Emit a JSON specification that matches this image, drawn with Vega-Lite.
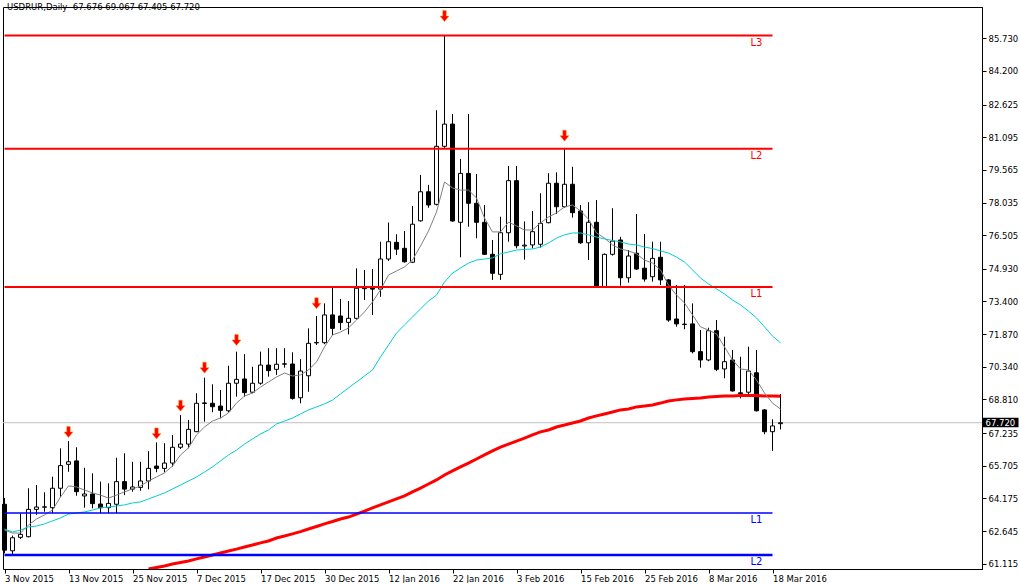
{
  "$schema": "https://vega.github.io/schema/vega-lite/v6.json",
  "width": 979,
  "height": 562,
  "padding": {"left": 2, "top": 2, "right": 0, "bottom": 0},
  "background": "white",
  "config": {
    "view": {"stroke": "black", "strokeWidth": 1},
    "font": "DejaVu Sans",
    "axis": {"labelFont": "DejaVu Sans", "labelColor": "black", "domainColor": "black", "tickColor": "black", "grid": false, "title": null, "labelOverlap": false},
    "axisY": {"labelOverlap": false, "labelBound": false, "tickCount": 40}
  },
  "title": {
    "text": "USDRUR,Daily\u00a0\u00a067.676 69.067 67.405 67.720",
    "anchor": "start",
    "frame": "group",
    "offset": -11,
    "baseline": "alphabetic",
    "dx": 4,
    "font": "DejaVu Sans",
    "fontSize": 8.5,
    "fontWeight": "normal",
    "color": "black"
  },
  "datasets": {
    "candles": [
      {"d":"2015-11-03","o":63.90,"h":64.20,"l":61.60,"c":61.75,"ma5":62.69,"ma21":62.74,"ma200":null},
      {"d":"2015-11-04","o":61.72,"h":62.43,"l":61.49,"c":62.33,"ma5":62.55,"ma21":62.60,"ma200":null},
      {"d":"2015-11-05","o":62.35,"h":63.48,"l":62.27,"c":62.49,"ma5":62.55,"ma21":62.69,"ma200":null},
      {"d":"2015-11-06","o":62.38,"h":64.65,"l":62.35,"c":63.66,"ma5":62.93,"ma21":62.84,"ma200":null},
      {"d":"2015-11-09","o":63.66,"h":64.80,"l":63.40,"c":63.77,"ma5":63.21,"ma21":62.88,"ma200":null},
      {"d":"2015-11-10","o":63.76,"h":64.46,"l":63.55,"c":63.78,"ma5":63.40,"ma21":62.98,"ma200":null},
      {"d":"2015-11-11","o":63.74,"h":65.19,"l":63.48,"c":64.65,"ma5":63.63,"ma21":63.12,"ma200":null},
      {"d":"2015-11-12","o":64.65,"h":66.52,"l":64.25,"c":65.71,"ma5":64.24,"ma21":63.26,"ma200":null},
      {"d":"2015-11-13","o":65.77,"h":66.86,"l":65.42,"c":65.89,"ma5":64.76,"ma21":63.44,"ma200":null},
      {"d":"2015-11-16","o":65.93,"h":66.57,"l":64.30,"c":64.49,"ma5":64.71,"ma21":63.49,"ma200":null},
      {"d":"2015-11-17","o":64.29,"h":65.61,"l":63.74,"c":64.38,"ma5":64.57,"ma21":63.54,"ma200":null},
      {"d":"2015-11-18","o":64.38,"h":65.35,"l":63.71,"c":63.93,"ma5":64.43,"ma21":63.63,"ma200":null},
      {"d":"2015-11-19","o":63.91,"h":64.96,"l":63.48,"c":63.74,"ma5":64.33,"ma21":63.73,"ma200":null},
      {"d":"2015-11-20","o":63.74,"h":64.88,"l":63.48,"c":63.94,"ma5":64.19,"ma21":63.77,"ma200":null},
      {"d":"2015-11-23","o":63.90,"h":66.08,"l":63.48,"c":64.96,"ma5":64.33,"ma21":63.82,"ma200":null},
      {"d":"2015-11-24","o":64.96,"h":66.29,"l":64.33,"c":64.61,"ma5":64.48,"ma21":63.87,"ma200":null},
      {"d":"2015-11-25","o":64.61,"h":65.89,"l":64.49,"c":64.71,"ma5":64.62,"ma21":63.96,"ma200":null},
      {"d":"2015-11-26","o":64.69,"h":65.89,"l":64.53,"c":64.99,"ma5":64.76,"ma21":64.01,"ma200":null},
      {"d":"2015-11-27","o":64.99,"h":66.39,"l":64.60,"c":65.58,"ma5":64.99,"ma21":64.15,"ma200":60.87},
      {"d":"2015-11-30","o":65.69,"h":66.80,"l":65.40,"c":65.58,"ma5":65.18,"ma21":64.29,"ma200":60.94},
      {"d":"2015-12-01","o":65.58,"h":66.76,"l":65.40,"c":65.83,"ma5":65.37,"ma21":64.43,"ma200":61.01},
      {"d":"2015-12-02","o":65.83,"h":67.14,"l":65.66,"c":66.57,"ma5":65.69,"ma21":64.62,"ma200":61.10},
      {"d":"2015-12-03","o":66.57,"h":68.08,"l":66.49,"c":66.72,"ma5":66.21,"ma21":64.80,"ma200":61.17},
      {"d":"2015-12-04","o":66.72,"h":67.85,"l":66.52,"c":67.41,"ma5":66.54,"ma21":64.99,"ma200":61.24},
      {"d":"2015-12-07","o":67.30,"h":69.10,"l":67.28,"c":68.63,"ma5":67.15,"ma21":65.18,"ma200":61.34},
      {"d":"2015-12-08","o":68.62,"h":69.83,"l":67.77,"c":68.65,"ma5":67.52,"ma21":65.41,"ma200":61.43},
      {"d":"2015-12-09","o":68.63,"h":69.52,"l":68.21,"c":68.47,"ma5":67.80,"ma21":65.65,"ma200":61.52},
      {"d":"2015-12-10","o":68.50,"h":69.25,"l":67.93,"c":68.30,"ma5":67.94,"ma21":65.93,"ma200":61.62},
      {"d":"2015-12-11","o":68.28,"h":70.39,"l":68.21,"c":69.57,"ma5":68.18,"ma21":66.21,"ma200":61.71},
      {"d":"2015-12-14","o":69.57,"h":71.05,"l":68.94,"c":69.75,"ma5":68.64,"ma21":66.44,"ma200":61.80},
      {"d":"2015-12-15","o":69.77,"h":70.93,"l":68.94,"c":69.13,"ma5":68.97,"ma21":66.72,"ma200":61.90},
      {"d":"2015-12-16","o":69.15,"h":70.34,"l":69.10,"c":69.57,"ma5":69.11,"ma21":66.96,"ma200":61.99},
      {"d":"2015-12-17","o":69.57,"h":71.05,"l":69.50,"c":70.42,"ma5":69.39,"ma21":67.19,"ma200":62.09},
      {"d":"2015-12-18","o":70.42,"h":71.21,"l":69.88,"c":70.16,"ma5":69.63,"ma21":67.38,"ma200":62.18},
      {"d":"2015-12-21","o":70.22,"h":71.21,"l":69.96,"c":70.46,"ma5":69.86,"ma21":67.66,"ma200":62.32},
      {"d":"2015-12-22","o":70.46,"h":71.21,"l":70.30,"c":70.48,"ma5":70.05,"ma21":67.80,"ma200":62.41},
      {"d":"2015-12-23","o":70.47,"h":71.02,"l":68.80,"c":68.86,"ma5":69.91,"ma21":67.94,"ma200":62.51},
      {"d":"2015-12-24","o":68.89,"h":70.70,"l":68.63,"c":70.14,"ma5":69.96,"ma21":68.13,"ma200":62.62},
      {"d":"2015-12-28","o":69.92,"h":72.14,"l":69.17,"c":71.44,"ma5":70.19,"ma21":68.32,"ma200":62.74},
      {"d":"2015-12-29","o":71.46,"h":72.72,"l":71.36,"c":71.48,"ma5":70.57,"ma21":68.46,"ma200":62.86},
      {"d":"2015-12-30","o":71.47,"h":73.31,"l":71.40,"c":72.77,"ma5":71.27,"ma21":68.60,"ma200":62.98},
      {"d":"2015-12-31","o":72.77,"h":74.09,"l":71.83,"c":72.14,"ma5":71.83,"ma21":68.78,"ma200":63.09},
      {"d":"2016-01-04","o":72.72,"h":73.52,"l":72.06,"c":72.41,"ma5":71.97,"ma21":69.07,"ma200":63.21},
      {"d":"2016-01-05","o":72.42,"h":73.42,"l":71.86,"c":72.61,"ma5":72.16,"ma21":69.35,"ma200":63.30},
      {"d":"2016-01-06","o":72.61,"h":74.95,"l":72.55,"c":74.02,"ma5":72.53,"ma21":69.63,"ma200":63.44},
      {"d":"2016-01-07","o":74.00,"h":74.87,"l":73.47,"c":74.04,"ma5":72.91,"ma21":69.91,"ma200":63.58},
      {"d":"2016-01-08","o":74.08,"h":74.92,"l":72.77,"c":73.98,"ma5":73.38,"ma21":70.19,"ma200":63.73},
      {"d":"2016-01-11","o":73.98,"h":76.20,"l":73.62,"c":75.39,"ma5":73.94,"ma21":70.80,"ma200":63.87},
      {"d":"2016-01-12","o":75.39,"h":77.10,"l":75.30,"c":76.20,"ma5":74.64,"ma21":71.36,"ma200":64.01},
      {"d":"2016-01-13","o":76.17,"h":76.55,"l":75.58,"c":75.85,"ma5":74.83,"ma21":71.92,"ma200":64.15},
      {"d":"2016-01-14","o":75.89,"h":76.70,"l":75.22,"c":75.26,"ma5":75.02,"ma21":72.30,"ma200":64.29},
      {"d":"2016-01-15","o":75.24,"h":77.87,"l":75.20,"c":77.02,"ma5":75.34,"ma21":72.67,"ma200":64.48},
      {"d":"2016-01-18","o":77.18,"h":79.33,"l":77.14,"c":78.54,"ma5":76.00,"ma21":73.05,"ma200":64.66},
      {"d":"2016-01-19","o":78.54,"h":78.86,"l":77.79,"c":77.92,"ma5":76.70,"ma21":73.42,"ma200":64.85},
      {"d":"2016-01-20","o":77.95,"h":82.36,"l":77.90,"c":80.67,"ma5":77.59,"ma21":73.70,"ma200":65.04},
      {"d":"2016-01-21","o":80.67,"h":85.86,"l":80.60,"c":81.71,"ma5":79.00,"ma21":74.31,"ma200":65.27},
      {"d":"2016-01-22","o":81.71,"h":82.18,"l":77.14,"c":77.17,"ma5":78.72,"ma21":74.73,"ma200":65.46},
      {"d":"2016-01-25","o":77.11,"h":80.08,"l":75.47,"c":79.40,"ma5":78.62,"ma21":74.97,"ma200":65.65},
      {"d":"2016-01-26","o":79.40,"h":82.18,"l":76.90,"c":78.00,"ma5":78.62,"ma21":75.20,"ma200":65.83},
      {"d":"2016-01-27","o":78.00,"h":79.37,"l":76.36,"c":77.11,"ma5":78.25,"ma21":75.34,"ma200":66.02},
      {"d":"2016-01-28","o":77.11,"h":77.92,"l":75.58,"c":75.61,"ma5":77.31,"ma21":75.39,"ma200":66.21},
      {"d":"2016-01-29","o":75.61,"h":76.28,"l":74.41,"c":74.72,"ma5":76.66,"ma21":75.44,"ma200":66.40},
      {"d":"2016-02-01","o":74.67,"h":77.37,"l":74.41,"c":76.62,"ma5":76.66,"ma21":75.63,"ma200":66.58},
      {"d":"2016-02-02","o":76.62,"h":79.75,"l":76.20,"c":79.06,"ma5":77.12,"ma21":75.72,"ma200":66.72},
      {"d":"2016-02-03","o":79.06,"h":79.75,"l":75.89,"c":76.01,"ma5":76.94,"ma21":75.81,"ma200":66.86},
      {"d":"2016-02-04","o":76.00,"h":77.15,"l":75.36,"c":76.04,"ma5":76.75,"ma21":75.84,"ma200":67.00},
      {"d":"2016-02-05","o":76.05,"h":77.64,"l":75.89,"c":76.67,"ma5":76.75,"ma21":75.86,"ma200":67.15},
      {"d":"2016-02-08","o":76.08,"h":78.47,"l":75.92,"c":77.06,"ma5":77.08,"ma21":75.95,"ma200":67.29},
      {"d":"2016-02-09","o":77.09,"h":79.41,"l":77.06,"c":78.94,"ma5":77.36,"ma21":76.14,"ma200":67.38},
      {"d":"2016-02-10","o":78.94,"h":79.45,"l":77.50,"c":77.84,"ma5":77.55,"ma21":76.37,"ma200":67.52},
      {"d":"2016-02-11","o":77.84,"h":80.56,"l":77.80,"c":78.89,"ma5":77.83,"ma21":76.52,"ma200":67.61},
      {"d":"2016-02-12","o":78.89,"h":79.71,"l":77.33,"c":77.56,"ma5":77.92,"ma21":76.61,"ma200":67.71},
      {"d":"2016-02-15","o":77.64,"h":77.92,"l":76.10,"c":76.15,"ma5":77.64,"ma21":76.61,"ma200":67.80},
      {"d":"2016-02-16","o":76.15,"h":78.05,"l":75.34,"c":77.11,"ma5":77.26,"ma21":76.52,"ma200":67.94},
      {"d":"2016-02-17","o":77.11,"h":78.15,"l":74.05,"c":74.09,"ma5":76.61,"ma21":76.42,"ma200":68.04},
      {"d":"2016-02-18","o":74.09,"h":75.65,"l":74.05,"c":75.61,"ma5":76.37,"ma21":76.33,"ma200":68.13},
      {"d":"2016-02-19","o":75.61,"h":77.77,"l":75.55,"c":76.23,"ma5":76.05,"ma21":76.26,"ma200":68.22},
      {"d":"2016-02-22","o":76.28,"h":76.43,"l":74.14,"c":74.51,"ma5":75.86,"ma21":76.19,"ma200":68.32},
      {"d":"2016-02-23","o":74.51,"h":75.81,"l":74.28,"c":75.53,"ma5":75.77,"ma21":76.09,"ma200":68.36},
      {"d":"2016-02-24","o":75.66,"h":77.50,"l":74.88,"c":74.92,"ma5":75.63,"ma21":76.05,"ma200":68.46},
      {"d":"2016-02-25","o":74.96,"h":76.56,"l":74.33,"c":74.45,"ma5":75.34,"ma21":75.95,"ma200":68.50},
      {"d":"2016-02-26","o":74.56,"h":76.20,"l":74.33,"c":75.42,"ma5":75.20,"ma21":75.88,"ma200":68.55},
      {"d":"2016-02-29","o":75.47,"h":76.20,"l":74.17,"c":74.41,"ma5":74.88,"ma21":75.77,"ma200":68.64},
      {"d":"2016-03-01","o":74.41,"h":74.45,"l":72.45,"c":72.53,"ma5":74.17,"ma21":75.67,"ma200":68.74},
      {"d":"2016-03-02","o":72.58,"h":74.17,"l":72.22,"c":72.35,"ma5":73.70,"ma21":75.48,"ma200":68.79},
      {"d":"2016-03-03","o":72.32,"h":74.17,"l":72.10,"c":72.34,"ma5":73.33,"ma21":75.25,"ma200":68.83},
      {"d":"2016-03-04","o":72.35,"h":73.31,"l":70.97,"c":71.05,"ma5":72.77,"ma21":74.88,"ma200":68.86},
      {"d":"2016-03-07","o":71.05,"h":72.06,"l":70.30,"c":70.66,"ma5":72.21,"ma21":74.50,"ma200":68.88},
      {"d":"2016-03-08","o":70.66,"h":72.17,"l":70.60,"c":72.03,"ma5":72.06,"ma21":74.22,"ma200":68.93},
      {"d":"2016-03-09","o":72.03,"h":72.53,"l":70.14,"c":70.22,"ma5":71.88,"ma21":73.99,"ma200":68.95},
      {"d":"2016-03-10","o":70.24,"h":71.75,"l":69.80,"c":70.58,"ma5":71.27,"ma21":73.75,"ma200":68.97},
      {"d":"2016-03-11","o":70.66,"h":71.13,"l":69.18,"c":69.21,"ma5":70.66,"ma21":73.47,"ma200":68.97},
      {"d":"2016-03-14","o":69.12,"h":70.81,"l":68.86,"c":69.08,"ma5":70.24,"ma21":73.24,"ma200":68.99},
      {"d":"2016-03-15","o":69.15,"h":71.28,"l":69.07,"c":70.14,"ma5":70.19,"ma21":72.95,"ma200":68.99},
      {"d":"2016-03-16","o":70.06,"h":71.13,"l":68.25,"c":68.28,"ma5":69.72,"ma21":72.63,"ma200":68.99},
      {"d":"2016-03-17","o":68.32,"h":68.35,"l":67.18,"c":67.30,"ma5":69.11,"ma21":72.21,"ma200":68.97},
      {"d":"2016-03-18","o":67.30,"h":67.88,"l":66.40,"c":67.57,"ma5":68.64,"ma21":71.78,"ma200":68.97},
      {"d":"2016-03-21","o":67.676,"h":69.067,"l":67.405,"c":67.72,"ma5":68.36,"ma21":71.46,"ma200":68.96}
    ],
    "levels": [
      {"name":"L3","side":"R","level":85.86,"from":"2015-11-03","to":"2016-03-18"},
      {"name":"L2","side":"R","level":80.56,"from":"2015-11-03","to":"2016-03-18"},
      {"name":"L1","side":"R","level":74.08,"from":"2015-11-03","to":"2016-03-18"},
      {"name":"L1","side":"S","level":63.49,"from":"2015-11-03","to":"2016-03-18"},
      {"name":"L2","side":"S","level":61.52,"from":"2015-11-03","to":"2016-03-18"}
    ],
    "fractals": [
      {"d":"2015-11-13","lv":67.29},
      {"d":"2015-11-30","lv":67.22},
      {"d":"2015-12-03","lv":68.52},
      {"d":"2015-12-08","lv":70.30},
      {"d":"2015-12-14","lv":71.60},
      {"d":"2015-12-29","lv":73.32},
      {"d":"2016-01-21","lv":86.77},
      {"d":"2016-02-11","lv":81.17}
    ],
    "price": [
      {"d":"2016-03-21","p":67.72,"label":"67.720"}
    ]
  },
  "layer": [
    {
      "data": {"name": "price"},
      "mark": {"type": "rule", "color": "#c0c0c0", "strokeWidth": 1},
      "encoding": {
        "y": {
          "field": "p", "type": "quantitative",
          "scale": {"domain": [60.867, 87.196], "nice": false, "zero": false},
          "axis": {
            "orient": "right",
            "values": [85.73, 84.2, 82.625, 81.095, 79.565, 78.035, 76.505, 74.93, 73.4, 71.87, 70.34, 68.81, 67.235, 65.705, 64.175, 62.645, 61.115],
            "tickCount": 40,
            "format": ".3f",
            "tickSize": 4,
            "labelPadding": 2,
            "labelFontSize": 8.5,
            "labelOverlap": false,
            "labelBound": false,
            "title": null
          }
        }
      }
    },
    {
      "data": {"name": "candles"},
      "mark": {"type": "rule", "color": "black", "strokeWidth": 1},
      "encoding": {
        "x": {
          "field": "d", "type": "ordinal",
          "scale": {"type": "point", "padding": 0, "range": [1.5, 777.5]},
          "axis": {
            "values": ["2015-11-03","2015-11-13","2015-11-25","2015-12-07","2015-12-17","2015-12-30","2016-01-12","2016-01-22","2016-02-03","2016-02-15","2016-02-25","2016-03-08","2016-03-18"],
            "labelExpr": "utcFormat(toDate(datum.value), '%-d %b %Y')",
            "labelAlign": "left",
            "labelAngle": 0,
            "labelBaseline": "top",
            "labelPadding": 1,
            "labelFontSize": 8.5,
            "labelOverlap": false,
            "tickSize": 4,
            "title": null
          }
        },
        "y": {
          "field": "l", "type": "quantitative",
          "axis": {
            "orient": "right",
            "values": [85.73, 84.2, 82.625, 81.095, 79.565, 78.035, 76.505, 74.93, 73.4, 71.87, 70.34, 68.81, 67.235, 65.705, 64.175, 62.645, 61.115],
            "tickCount": 40,
            "format": ".3f",
            "tickSize": 4,
            "labelPadding": 2,
            "labelFontSize": 8.5,
            "labelOverlap": false,
            "labelBound": false,
            "title": null
          }
        },
        "y2": {"field": "h"}
      }
    },
    {
      "data": {"name": "candles"},
      "mark": {"type": "bar", "size": 4, "stroke": "black", "strokeWidth": 1},
      "encoding": {
        "x": {"field": "d", "type": "ordinal"},
        "y": {"field": "o", "type": "quantitative"},
        "y2": {"field": "c"},
        "fill": {"condition": {"test": "datum.c >= datum.o", "value": "white"}, "value": "black"}
      }
    },
    {
      "data": {"name": "candles"},
      "mark": {"type": "line", "color": "#ff0000", "strokeWidth": 3, "clip": true},
      "encoding": {
        "x": {"field": "d", "type": "ordinal"},
        "y": {"field": "ma200", "type": "quantitative"}
      }
    },
    {
      "data": {"name": "candles"},
      "mark": {"type": "line", "color": "#00ced1", "strokeWidth": 1},
      "encoding": {
        "x": {"field": "d", "type": "ordinal"},
        "y": {"field": "ma21", "type": "quantitative"}
      }
    },
    {
      "data": {"name": "candles"},
      "mark": {"type": "line", "color": "#808080", "strokeWidth": 1},
      "encoding": {
        "x": {"field": "d", "type": "ordinal"},
        "y": {"field": "ma5", "type": "quantitative"}
      }
    },
    {
      "data": {"name": "levels"},
      "mark": {"type": "rule"},
      "encoding": {
        "x": {"field": "from", "type": "ordinal"},
        "x2": {"field": "to"},
        "y": {"field": "level", "type": "quantitative"},
        "color": {"field": "side", "type": "nominal", "scale": {"domain": ["R", "S"], "range": ["#ff0000", "#0000ff"]}, "legend": null},
        "strokeWidth": {"condition": [{"test": "datum.side == 'S' && datum.name == 'L2'", "value": 2.5}, {"test": "datum.side == 'S'", "value": 1.5}], "value": 2}
      }
    },
    {
      "data": {"name": "levels"},
      "mark": {"type": "text", "align": "center", "baseline": "top", "dx": -16, "dy": 2, "fontSize": 10, "font": "DejaVu Sans"},
      "encoding": {
        "x": {"field": "to", "type": "ordinal"},
        "y": {"field": "level", "type": "quantitative"},
        "text": {"field": "name"},
        "color": {"field": "side", "type": "nominal", "scale": {"domain": ["R", "S"], "range": ["#ff0000", "#0000ff"]}, "legend": null}
      }
    },
    {
      "data": {"name": "fractals"},
      "mark": {"type": "point", "shape": "M-0.35,-1.1L0.35,-1.1L0.35,0L0.9,0L0,1.1L-0.9,0L-0.35,0Z", "size": 100, "filled": true, "color": "#ff0000", "opacity": 1, "stroke": "#ff9900", "strokeWidth": 0.5},
      "encoding": {
        "x": {"field": "d", "type": "ordinal"},
        "y": {"field": "lv", "type": "quantitative"}
      }
    },
    {
      "data": {"name": "price"},
      "mark": {"type": "point", "shape": "M202,-5H238V4.5H202Z", "size": 4, "filled": true, "color": "black", "opacity": 1},
      "encoding": {
        "x": {"field": "d", "type": "ordinal"},
        "y": {"field": "p", "type": "quantitative"}
      }
    },
    {
      "data": {"name": "price"},
      "mark": {"type": "text", "align": "left", "baseline": "middle", "dx": 205, "fontSize": 8.5, "font": "DejaVu Sans", "color": "white"},
      "encoding": {
        "x": {"field": "d", "type": "ordinal"},
        "y": {"field": "p", "type": "quantitative"},
        "text": {"field": "label"}
      }
    }
  ]
}
